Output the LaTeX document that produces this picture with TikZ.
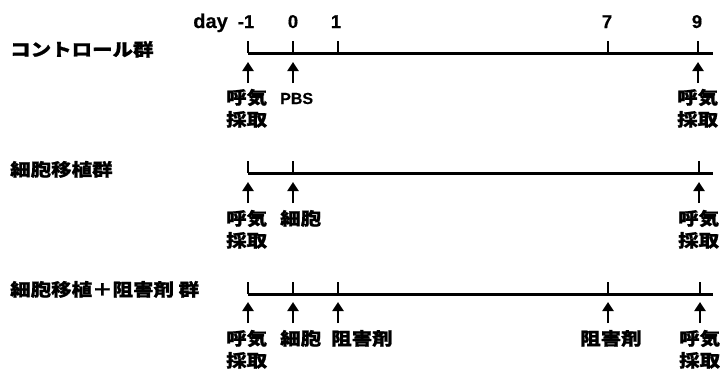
\documentclass[tikz,border=0pt]{standalone}
\usepackage{fontspec}
\setmainfont{Liberation Sans}[FakeBold=0.6]
\newfontfamily\jp[FakeStretch=1.17,FakeBold=1.2]{Noto Sans CJK JP}
\usetikzlibrary{arrows.meta}
\begin{document}
\begin{tikzpicture}[x=1pt,y=1pt,
  axisline/.style={line width=3pt},
  tickline/.style={line width=2.2pt},
  uparrow/.style={line width=2.4pt,-{Triangle[width=11pt,length=9pt]}},
  jlab/.style={font=\jp\bfseries\fontsize{17.5}{22}\selectfont,inner sep=0,anchor=base west},
  glab/.style={font=\jp\bfseries\fontsize{17.5}{22}\selectfont,inner sep=0,anchor=base west},
  daylab/.style={font=\bfseries\fontsize{18.5}{20}\selectfont,inner sep=0,anchor=base},
  pbslab/.style={font=\bfseries\fontsize{16}{18}\selectfont,inner sep=0,anchor=base west}]
\useasboundingbox (0,0) rectangle (720,-373);

% day labels
\node[daylab,anchor=base east,font=\bfseries\fontsize{20}{22}\selectfont] (dday) at (228,-28) {day};
\node[daylab] (dm1) at (246,-28) {-1};
\node[daylab] (d0) at (293,-28) {0};
\node[daylab] (d1) at (336,-28) {1};
\node[daylab] (d7) at (607,-28) {7};
\node[daylab] (d9) at (697,-28) {9};

% ---------- row 1 ----------
\node[glab] (g1) at (10,-56) {コントロール群};
\coordinate (a1s) at (248,-53); \coordinate (a1e) at (713,-53);
\draw[axisline] (a1s) -- (a1e);
\foreach \x/\n in {248/m1,293/z,338/o,608/s,698/n}{
  \coordinate (t1\n) at (\x,-53); \coordinate (t1\n top) at (\x,-41);
  \draw[tickline] (t1\n) -- (t1\n top);
}
\foreach \x/\n in {248/m1,293/z,698/n}{
  \coordinate (r1\n tail) at (\x,-83); \coordinate (r1\n tip) at (\x,-62);
  \draw[uparrow] (r1\n tail) -- (r1\n tip);
}
\node[jlab] (l1a) at (226,-104) {呼気};
\node[jlab] (l1b) at (226,-126) {採取};
\node[pbslab] (l1p) at (280,-104) {PBS};
\node[jlab] (l1c) at (677,-104) {呼気};
\node[jlab] (l1d) at (677,-126) {採取};

% ---------- row 2 ----------
\node[glab] (g2) at (10,-176) {細胞移植群};
\coordinate (a2s) at (248,-173); \coordinate (a2e) at (713,-173);
\draw[axisline] (a2s) -- (a2e);
\foreach \x/\n in {248/m1,293/z,699/n}{
  \coordinate (t2\n) at (\x,-173); \coordinate (t2\n top) at (\x,-161);
  \draw[tickline] (t2\n) -- (t2\n top);
}
\foreach \x/\n in {248/m1,293/z,699/n}{
  \coordinate (r2\n tail) at (\x,-203); \coordinate (r2\n tip) at (\x,-182);
  \draw[uparrow] (r2\n tail) -- (r2\n tip);
}
\node[jlab] (l2a) at (226,-225) {呼気};
\node[jlab] (l2b) at (226,-247) {採取};
\node[jlab] (l2c) at (280,-225) {細胞};
\node[jlab] (l2d) at (678,-225) {呼気};
\node[jlab] (l2e) at (678,-247) {採取};

% ---------- row 3 ----------
\node[glab] (g3) at (10,-296) {細胞移植＋阻害剤 群};
\coordinate (a3s) at (248,-294); \coordinate (a3e) at (713,-294);
\draw[axisline] (a3s) -- (a3e);
\foreach \x/\n in {248/m1,293/z,338/o,608/s,700/n}{
  \coordinate (t3\n) at (\x,-294); \coordinate (t3\n top) at (\x,-282);
  \draw[tickline] (t3\n) -- (t3\n top);
}
\foreach \x/\n in {248/m1,293/z,338/o,608/s,700/n}{
  \coordinate (r3\n tail) at (\x,-323); \coordinate (r3\n tip) at (\x,-302);
  \draw[uparrow] (r3\n tail) -- (r3\n tip);
}
\node[jlab] (l3a) at (226,-345) {呼気};
\node[jlab] (l3b) at (226,-367) {採取};
\node[jlab] (l3c) at (280,-345) {細胞};
\node[jlab] (l3d) at (331,-345) {阻害剤};
\node[jlab] (l3e) at (580,-345) {阻害剤};
\node[jlab] (l3f) at (679,-345) {呼気};
\node[jlab] (l3g) at (679,-367) {採取};
\end{tikzpicture}
\end{document}
